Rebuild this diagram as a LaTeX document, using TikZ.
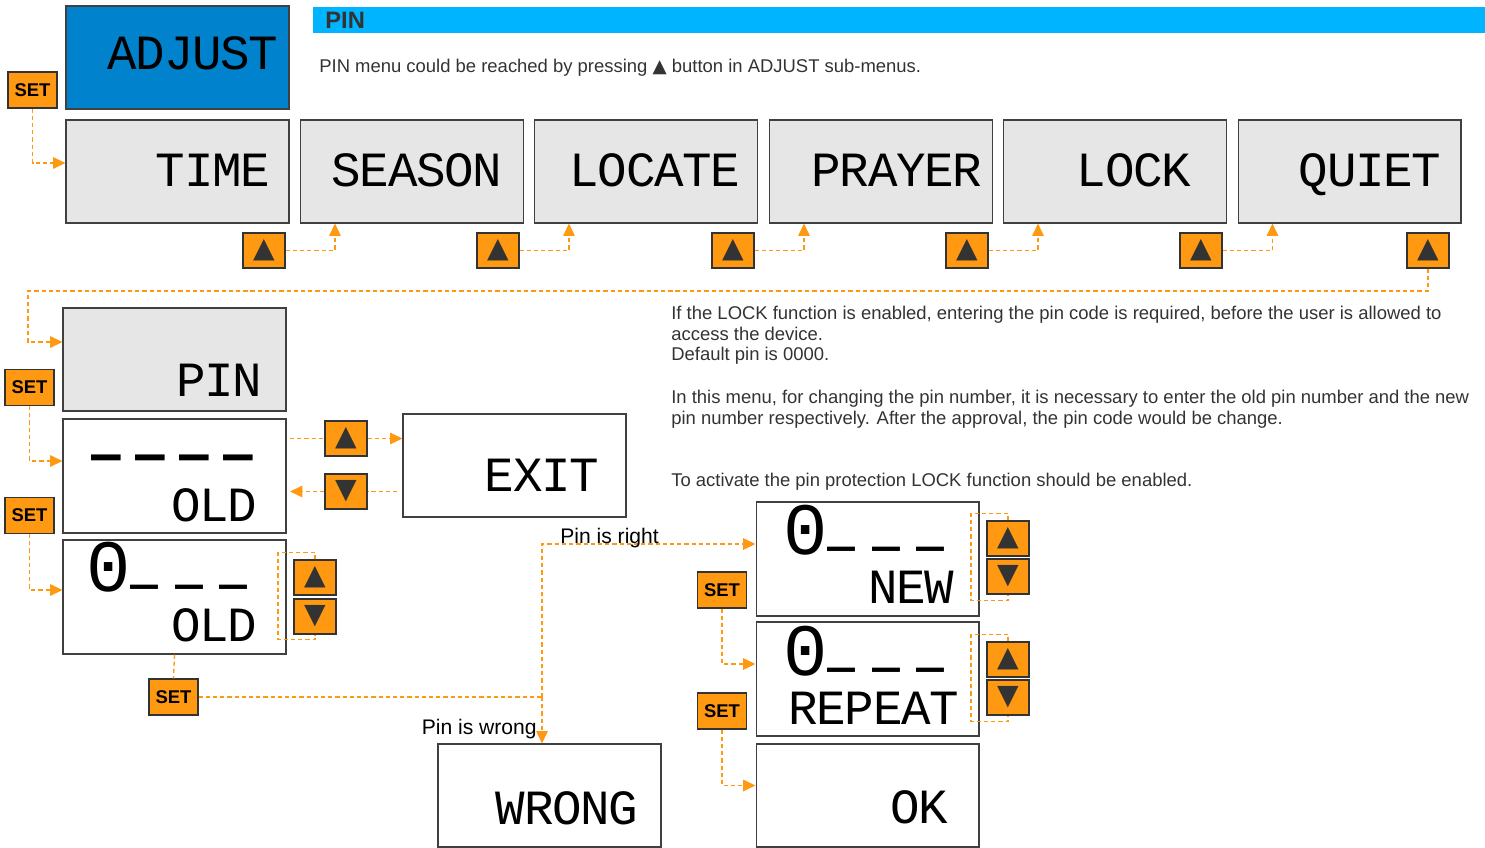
\documentclass[tikz,border=0pt]{standalone}
\usepackage{fontspec}
\setmainfont{Liberation Sans}
\newfontfamily\lcdfont[LetterSpace=-3]{Liberation Mono}
\newfontfamily\segfont{DejaVu Sans Mono}
\newfontfamily\symfont{DejaVu Sans}
\usetikzlibrary{arrows.meta, positioning, calc}

\definecolor{btnorange}{HTML}{FF9912}
\definecolor{pinblue}{HTML}{00B4FF}
\definecolor{adjblue}{HTML}{0082CC}
\definecolor{lcdgray}{HTML}{E6E6E6}
\definecolor{darktext}{HTML}{333333}

\tikzset{
  lcdbox/.style={
    rectangle, minimum width=4.46cm, minimum height=2.06cm,
    inner sep=0pt, draw=black!75, line width=0.6pt, fill=#1
  },
  lcdbox/.default=white,
  tallbox/.style={minimum height=2.28cm},
  lcdtext/.style={
    anchor=base east, inner sep=0pt, text=black,
    font=\lcdfont\fontsize{28}{28}\selectfont
  },
  pairtext/.style={
    lcdtext, anchor=south east, align=right
  },
  setbtn/.style={
    rectangle, minimum width=0.98cm, minimum height=0.72cm,
    inner sep=0pt, draw=black!80, line width=0.6pt, fill=btnorange,
    text=black, font=\bfseries\fontsize{10.5}{12}\selectfont
  },
  keybtn/.style={
    rectangle, minimum width=0.84cm, minimum height=0.7cm,
    inner sep=0pt, draw=black!80, line width=0.6pt, fill=btnorange,
    text=darktext, font=\symfont\fontsize{16}{16}\selectfont
  },
  infotext/.style={
    inner sep=0pt, align=left, text=darktext,
    font=\fontsize{10.5}{11.6}\selectfont
  },
}

\begin{document}
\begin{tikzpicture}[
      x=0.02cm, y=-0.02cm,
      flowline/.style={draw=btnorange, line width=0.75pt, dash pattern=on 2.4pt off 1.7pt},
      flow/.style={flowline, -{Triangle[length=7pt, width=6.5pt]}}
    ]
    \useasboundingbox (0,0) rectangle (1485,848);

    % header
    \node[fill=pinblue, anchor=north west, inner sep=0pt,
          minimum width=23.44cm, minimum height=0.52cm] (pinBar) at (313,7) {};
    \node[anchor=base west, inner sep=0pt, text=darktext,
          font=\bfseries\fontsize{13.5}{14}\selectfont] (pinTitle) at (325,29) {PIN};
    \node[infotext, anchor=base west] (pinHint) at (319,73)
         {PIN menu could be reached by pressing {\symfont ▲} button in ADJUST sub-menus.};

    % ADJUST and its sub-menus
    \node[lcdbox=adjblue] (adjust) at (177.5,57.5) {};
    \node[lcdtext] (tAdjust) at (278,70) {ADJUST};
    \node[setbtn] (set0) at (32.5,90) {SET};

    \foreach \n/\x/\r/\t in {mTime/177.5/270/TIME, mSeason/412/502/SEASON,
                             mLocate/646/740/LOCATE, mPrayer/881/982/PRAYER,
                             mLock/1115/1191/LOCK, mQuiet/1349.5/1441/QUIET}{
      \node[lcdbox=lcdgray] (\n) at (\x,171.5) {};
      \node[lcdtext] (t\n) at (\r,187) {\t};
    }

    \foreach \n/\x in {kA/264, kB/498, kC/733, kD/967, kE/1201, kF/1428}
      \node[keybtn] (\n) at (\x,250.5) {▲};

    \draw[flow] (set0.south) |- ([yshift=0.17cm]mTime.west);
    \foreach \k/\m in {kA/mSeason, kB/mLocate, kC/mPrayer, kD/mLock, kE/mQuiet}
      \draw[flow] (\k.east) -| ([xshift=0.7cm]\m.south west);

    % PIN menu
    \node[lcdbox=lcdgray] (pin) at (174.5,359.5) {};
    \node[lcdtext] (tPin) at (262,396) {PIN};
    \coordinate (wrapA) at (28,291);
    \draw[flow] (kF.south) |- (wrapA) |- ([yshift=0.35cm]pin.west);

    \node[lcdbox, tallbox] (oldA) at (174.5,476) {};
    \node[pairtext] (tOldA) at (257,522)
         {{\segfont\bfseries\fontsize{28}{28}\selectfont\addfontfeature{LetterSpace=29}––––}\kern2pt\\OLD};

    \node[lcdbox, tallbox] (oldB) at (174.5,597) {};
    \node[pairtext] (tOldB) at (257,642)
         {{\fontsize{42}{42}\selectfont 0}{\segfont\bfseries\fontsize{26.4}{26.4}\selectfont
           \addfontfeature{LetterSpace=36}\raisebox{0.3em}{\_\_\_}}\kern5pt\\OLD};

    \node[lcdbox] (exit) at (514.5,465.5) {};
    \node[lcdtext] (tExit) at (599,491) {EXIT};

    \node[setbtn] (set1) at (29.5,387.5) {SET};
    \node[setbtn] (set2) at (29.5,515.5) {SET};
    \node[setbtn] (set3) at (173.5,697) {SET};

    \node[keybtn] (exU) at (346,438.5) {▲};
    \node[keybtn] (exD) at (346,491.5) {▼};
    \node[keybtn] (olU) at (315,577.5) {▲};
    \node[keybtn] (olD) at (315,616.5) {▼};

    \draw[flow] (set1.south) |- ([yshift=0.3cm]oldA.west);
    \draw[flow] (set2.south) |- ([yshift=0.14cm]oldB.west);
    \draw[flowline, shorten <=2pt] (oldA.east |- exU.west) -- (exU.west);
    \draw[flow] (exU.east) -- (exit.west |- exU.east);
    \draw[flowline, shorten <=3pt] (exit.west |- exD.east) -- (exD.east);
    \draw[flow, shorten >=2pt] (exD.west) -- (oldA.east |- exD.west);

    % new pin
    \node[lcdbox, tallbox] (new) at (867.5,559) {};
    \node[pairtext] (tNew) at (954,604)
         {{\fontsize{42}{42}\selectfont 0}{\segfont\bfseries\fontsize{26.4}{26.4}\selectfont
           \addfontfeature{LetterSpace=36}\raisebox{0.3em}{\_\_\_}}\kern5pt\\NEW};

    \node[lcdbox, tallbox] (rep) at (867.5,679) {};
    \node[pairtext] (tRepeat) at (959,725)
         {{\fontsize{42}{42}\selectfont 0}{\segfont\bfseries\fontsize{26.4}{26.4}\selectfont
           \addfontfeature{LetterSpace=36}\raisebox{0.3em}{\_\_\_}}\kern8pt\\REPEAT};

    \node[lcdbox] (ok) at (867.5,795.5) {};
    \node[lcdtext] (tOk) at (948,823) {OK};
    \node[lcdbox] (wrong) at (549.5,795.5) {};
    \node[lcdtext] (tWrong) at (638,824) {WRONG};

    \node[setbtn] (set4) at (722,590) {SET};
    \node[setbtn] (set5) at (722,711) {SET};
    \node[keybtn] (nwU) at (1008,538.5) {▲};
    \node[keybtn] (nwD) at (1008,576.5) {▼};
    \node[keybtn] (rpU) at (1008,659.5) {▲};
    \node[keybtn] (rpD) at (1008,697.5) {▼};

    \foreach \u/\d in {olU/olD, nwU/nwD, rpU/rpD}
      \draw[flowline] (\u.north) -- ++(0,-7) -| ++(-37,87) -- ++(37,0) -- (\d.south);

    \draw[flowline] (oldB.south) -- (set3.north);
    \coordinate (fork) at (542,697);
    \draw[flowline] (set3.east) -- (fork);
    \draw[flow] (fork) |- ([yshift=0.3cm]new.west);
    \draw[flow] (fork) -- (fork |- wrong.north);
    \node[anchor=base west, inner sep=0pt, font=\fontsize{12}{14}\selectfont]
         (lblRight) at (560,543) {Pin is right};
    \node[anchor=base east, inner sep=0pt, font=\fontsize{12}{14}\selectfont]
         (lblWrong) at (537,734) {Pin is wrong};

    \draw[flow] (set4.south) |- ([yshift=0.3cm]rep.west);
    \draw[flow] (set5.south) |- ([yshift=0.2cm]ok.west);

    % notes
    \node[infotext, anchor=north west] (infoA) at (671,306)
         {If the LOCK function is enabled, entering the pin code is required, before the user is allowed to\\
          access the device.\\
          Default pin is 0000.};
    \node[infotext, anchor=north west] (infoB) at (671,390)
         {In this menu, for changing the pin number, it is necessary to enter the old pin number and the new\\
          pin number respectively. After the approval, the pin code would be change.};
    \node[infotext, anchor=north west] (infoC) at (671,473)
         {To activate the pin protection LOCK function should be enabled.};

  \end{tikzpicture}
\end{document}
